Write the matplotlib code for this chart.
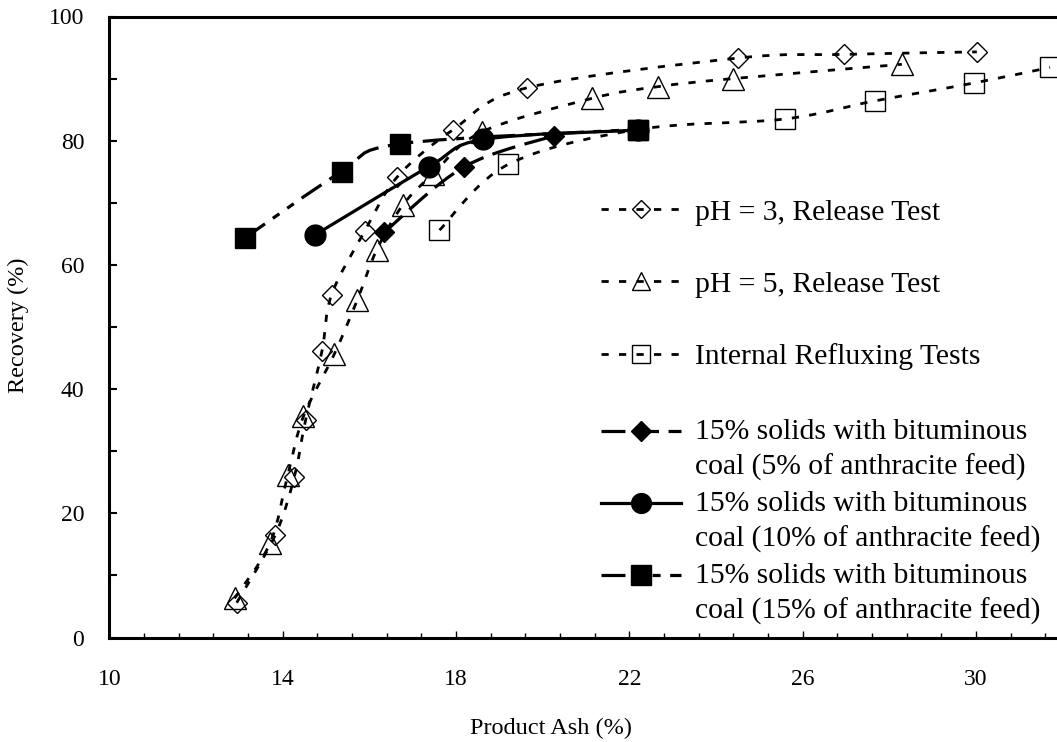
import numpy as np
import matplotlib
matplotlib.use("Agg")
import matplotlib.pyplot as plt
from matplotlib.path import Path
from matplotlib.patches import PathPatch
from matplotlib.lines import Line2D
from matplotlib.legend_handler import HandlerLine2D
import matplotlib.transforms as mtransforms

plt.rcParams['font.family'] = ['Liberation Serif', 'DejaVu Serif']

# ---------------- data ----------------
ph3_x = [12.94, 13.83, 14.27, 14.53, 14.91, 15.13, 15.90, 16.65, 17.94, 19.63, 24.50, 26.96, 30.02]
ph3_y = [5.6, 16.5, 25.9, 35.0, 46.2, 55.2, 65.5, 74.2, 81.8, 88.5, 93.3, 93.9, 94.3]

ph5_x = [12.89, 13.71, 14.12, 14.48, 15.19, 15.72, 16.17, 16.77, 17.48, 18.59, 21.13, 22.66, 24.39, 28.29]
ph5_y = [6.3, 15.2, 26.2, 35.6, 45.6, 54.3, 62.4, 69.6, 74.7, 81.4, 86.8, 88.7, 90.0, 92.3]

reflux_x = [17.62, 19.21, 22.19, 25.59, 27.66, 29.96, 31.71]
reflux_y = [65.6, 76.2, 81.8, 83.5, 86.4, 89.3, 91.8]

s5_x = [16.35, 18.19, 20.26]
s5_y = [65.3, 75.8, 80.8]

s10_x = [14.74, 17.37, 18.63, 22.19]
s10_y = [64.8, 75.8, 80.2, 81.7]

s15_x = [13.14, 15.36, 16.72, 22.19]
s15_y = [64.4, 75.0, 79.5, 81.8]

labels = ["pH = 3, Release Test",
          "pH = 5, Release Test",
          "Internal Refluxing Tests",
          "15% solids with bituminous\ncoal (5% of anthracite feed)",
          "15% solids with bituminous\ncoal (10% of anthracite feed)",
          "15% solids with bituminous\ncoal (15% of anthracite feed)"]

x_ticks = [10, 14, 18, 22, 26, 30]
y_ticks = [0, 20, 40, 60, 80, 100]

# ---------------- figure ----------------
W, H = 1057, 742
fig = plt.figure(figsize=(W / 100, H / 100), dpi=100)
x0, x1 = 109.3, 1062.6
yb, yt = 637.5, 16.5
ax = fig.add_axes([x0 / W, (H - yb) / H, (x1 - x0) / W, (yb - yt) / H])
ax.set_xlim(10, 32)
ax.set_ylim(0, 100)


def smooth_path(xs, ys):
    P = np.column_stack([xs, ys]).astype(float)
    n = len(P)
    verts = [P[0]]
    codes = [Path.MOVETO]
    for i in range(n - 1):
        p0 = P[i - 1] if i > 0 else P[i]
        p1 = P[i]
        p2 = P[i + 1]
        p3 = P[i + 2] if i + 2 < n else P[i + 1]
        c1 = p1 + (p2 - p0) / 6.0
        c2 = p2 - (p3 - p1) / 6.0
        verts += [c1, c2, p2]
        codes += [Path.CURVE4] * 3
    return Path(verts, codes)


dot_ls = (0, (2.6, 3.7))
long_ls = (0, (7.5, 3.0))
ldd_ls = (0, (7.5, 3.0, 2.5, 3.0, 2.5, 3.0))

series = [
    dict(x=ph3_x, y=ph3_y, marker='D', ms=10.5, mfc='none', ls=dot_ls, lw=2.0),
    dict(x=ph5_x, y=ph5_y, marker='^', ms=15.5, mfc='none', ls=dot_ls, lw=2.0),
    dict(x=reflux_x, y=reflux_y, marker='s', ms=14.5, mfc='none', ls=dot_ls, lw=2.0),
    dict(x=s5_x, y=s5_y, marker='D', ms=10.5, mfc='black', ls=long_ls, lw=2.3),
    dict(x=s10_x, y=s10_y, marker='o', ms=15.0, mfc='black', ls='-', lw=2.3),
    dict(x=s15_x, y=s15_y, marker='s', ms=15.0, mfc='black', ls=ldd_ls, lw=2.3),
]

handles = []
for k, s in enumerate(series):
    patch = PathPatch(smooth_path(s['x'], s['y']), fill=False, edgecolor='black',
                      linewidth=s['lw'], linestyle=s['ls'], zorder=2 + 2 * k,
                      capstyle='butt')
    ax.add_patch(patch)
    ax.plot(s['x'], s['y'], linestyle='none', marker=s['marker'], markersize=s['ms'],
            markerfacecolor=s['mfc'], markeredgecolor='black', markeredgewidth=1.0,
            zorder=3 + 2 * k, clip_on=False)
    handles.append(Line2D([], [], color='black', linewidth=s['lw'], linestyle=s['ls'],
                          marker=s['marker'],
                          markersize=s['ms'] * 0.85 if s['mfc'] == 'none' else s['ms'] * 0.95,
                          markerfacecolor=s['mfc'], markeredgecolor='black',
                          markeredgewidth=1.0, dash_capstyle='butt'))

# ---------------- axes styling ----------------
for side in ['left', 'bottom', 'top']:
    ax.spines[side].set_linewidth(2.2)
ax.spines['right'].set_visible(False)

ax.set_xticks(x_ticks)
ax.set_xticks(np.arange(10, 32.01, 0.8), minor=True)
ax.set_yticks(y_ticks)
ax.set_yticks(np.arange(0, 100.1, 10), minor=True)
ax.tick_params(axis='x', which='major', direction='in', length=5, width=1.0,
               labelsize=17, pad=23)
ax.tick_params(axis='x', which='minor', direction='in', length=3.5, width=1.0)
ax.tick_params(axis='y', which='both', direction='in', length=6, width=1.5,
               labelsize=17, pad=18)
ax.set_xlabel('Product Ash (%)', fontsize=17.5)
ax.xaxis.set_label_coords((551 - x0) / (x1 - x0), -(728 - yb) / (yb - yt), transform=ax.transAxes)
ax.xaxis.label.set_va('center')
ax.set_ylabel('Recovery (%)', fontsize=17.5)
ax.yaxis.set_label_coords(-(x0 - 18) / (x1 - x0), (yb - 325) / (yb - yt), transform=ax.transAxes)
ax.yaxis.label.set_va('center')


class TopHandler(HandlerLine2D):
    def __init__(self, shift, **kw):
        super().__init__(**kw)
        self.shift = shift

    def create_artists(self, legend, orig_handle, xdescent, ydescent, width,
                       height, fontsize, trans):
        t = mtransforms.Affine2D().translate(0, self.shift) + trans
        return super().create_artists(legend, orig_handle, xdescent, ydescent,
                                      width, height, fontsize, t)


fs_leg = 21.3
leg1 = ax.legend(handles[:3], labels[:3], loc='upper left',
                 bbox_to_anchor=(601 / W, 1 - 199 / H), bbox_transform=fig.transFigure,
                 frameon=False, fontsize=fs_leg, borderpad=0, borderaxespad=0,
                 handlelength=2.72, handletextpad=0.45, labelspacing=1.53)
ax.add_artist(leg1)
leg2 = ax.legend(handles[3:], labels[3:], loc='upper left',
                 bbox_to_anchor=(601 / W, 1 - 419 / H), bbox_transform=fig.transFigure,
                 frameon=False, fontsize=fs_leg, borderpad=0, borderaxespad=0,
                 handlelength=2.72, handletextpad=0.45, labelspacing=0.33,
                 handler_map={h: TopHandler(13.2) for h in handles[3:]})
for t in leg2.get_texts():
    t.set_linespacing(1.42)

fig.savefig('out.png', dpi=100)
